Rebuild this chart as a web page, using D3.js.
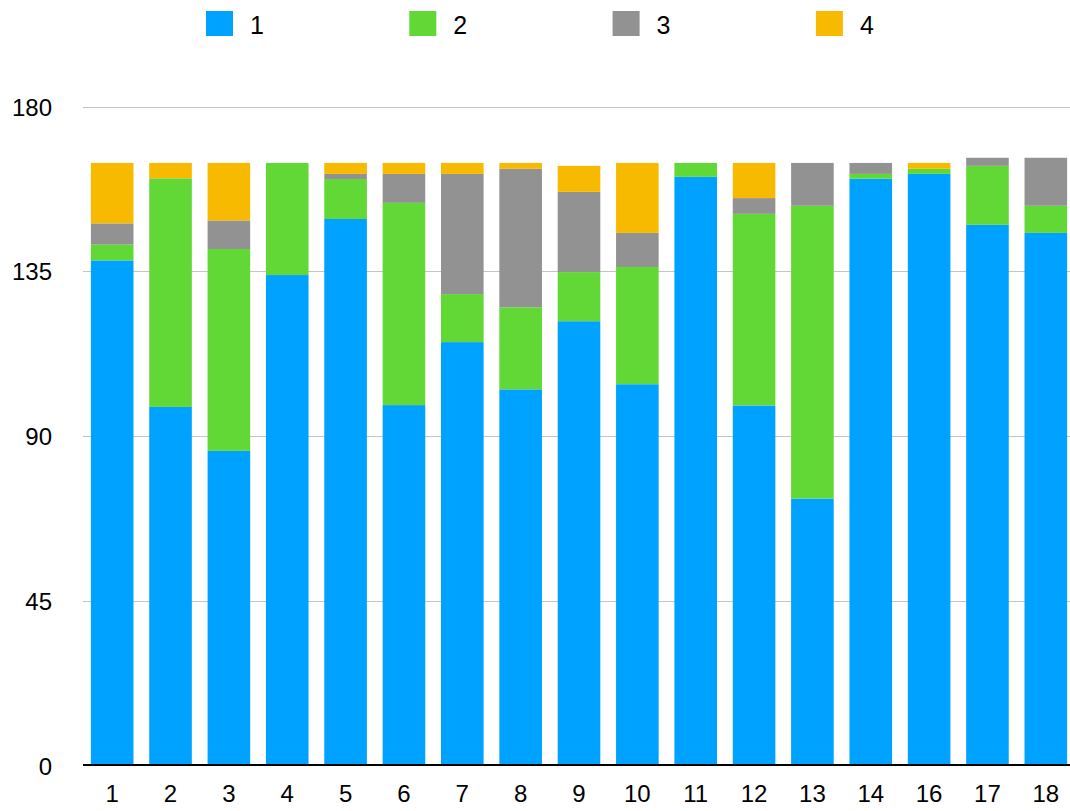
<!DOCTYPE html>
<html>
<head>
<meta charset="utf-8">
<script src="https://cdn.jsdelivr.net/npm/d3@7"></script>
<style>
  body { margin: 0; background: #fff; }
  text { font-family: "Liberation Sans", Arial, Helvetica, sans-serif; fill: #000; }
</style>
</head>
<body>
<svg id="chart" width="1070" height="811"></svg>
<script>
/////////////////////////////////
// DATA
//////////////////////////////////

var categories = ["1", "2", "3", "4", "5", "6", "7", "8", "9", "10", "11", "12", "13", "14", "16", "17", "18"];
var seriesNames = ["1", "2", "3", "4"];

// one array per series
var series1 = [138, 98, 86, 134, 149.3, 98.5, 115.7, 102.8, 121.4, 104.2, 160.8, 98.4, 73, 160.3, 161.6, 147.7, 145.5];
var series2 = [4.3, 62.4, 55.1, 30.6, 10.9, 55.2, 13.1, 22.4, 13.4, 32, 3.8, 52.3, 79.9, 1.3, 1.4, 16.1, 7.4];
var series3 = [5.8, 0, 7.8, 0, 1.4, 7.9, 32.8, 37.8, 21.9, 9.3, 0, 4.3, 11.7, 3, 0, 2.2, 13.1];
var series4 = [16.5, 4.2, 15.7, 0, 3, 3, 3, 1.6, 7.1, 19.1, 0, 9.6, 0, 0, 1.6, 0, 0];

var yTicks = [0, 45, 90, 135, 180];
var colors = ["#00A2FF", "#61D836", "#929292", "#F8BA00"];

/////////////////////////////////
// SCALES
//////////////////////////////////

var svg = d3.select("#chart");

var table = categories.map(function(c, i) {
  return { cat: c, s1: series1[i], s2: series2[i], s3: series3[i], s4: series4[i] };
});

var stack = d3.stack().keys(["s1", "s2", "s3", "s4"]);
var layers = stack(table);

var x = d3.scaleBand()
  .domain(categories)
  .range([83, 1075])
  .paddingInner(0.27)
  .paddingOuter(0.135);

var y = d3.scaleLinear()
  .domain([0, 180])
  .range([766, 106.5]);

var color = d3.scaleOrdinal()
  .domain(["s1", "s2", "s3", "s4"])
  .range(colors);

/////////////////////////////////
// GRIDLINES + Y LABELS
//////////////////////////////////

svg.append("g")
  .selectAll("line")
  .data(yTicks.filter(function(d) { return d > 0; }))
  .enter()
  .append("line")
    .attr("x1", 83)
    .attr("x2", 1070)
    .attr("y1", function(d) { return Math.round(y(d)) + 0.5; })
    .attr("y2", function(d) { return Math.round(y(d)) + 0.5; })
    .attr("stroke", "#c4c4c4")
    .attr("stroke-width", 1.2);

svg.append("g")
  .selectAll("text")
  .data(yTicks)
  .enter()
  .append("text")
    .attr("x", 52)
    .attr("y", function(d) { return y(d) + 9; })
    .attr("text-anchor", "end")
    .style("font-size", "24px")
    .text(function(d) { return d; });

/////////////////////////////////
// BARS
//////////////////////////////////

svg.append("g")
  .selectAll("g")
  .data(layers)
  .enter()
  .append("g")
    .attr("fill", function(d) { return color(d.key); })
  .selectAll("rect")
  .data(function(d) { return d; })
  .enter()
  .append("rect")
    .attr("x", function(d) { return x(d.data.cat); })
    .attr("width", x.bandwidth())
    .attr("y", function(d) { return y(d[1]); })
    .attr("height", function(d) { return Math.max(0, y(d[0]) - y(d[1])); });

/////////////////////////////////
// X AXIS
//////////////////////////////////

svg.append("line")
  .attr("x1", 83)
  .attr("x2", 1070)
  .attr("y1", 765)
  .attr("y2", 765)
  .attr("stroke", "#000")
  .attr("stroke-width", 2);

svg.append("g")
  .selectAll("text")
  .data(categories)
  .enter()
  .append("text")
    .attr("x", function(d) { return x(d) + x.bandwidth() / 2; })
    .attr("y", 802)
    .attr("text-anchor", "middle")
    .style("font-size", "24px")
    .text(function(d) { return d; });

/////////////////////////////////
// LEGEND
//////////////////////////////////

var legend = svg.append("g")
  .selectAll("g")
  .data(seriesNames)
  .enter()
  .append("g")
    .attr("transform", function(d, i) { return "translate(" + (206 + i * 203.3) + ",11)"; });

legend.append("rect")
  .attr("width", 27)
  .attr("height", 25)
  .attr("fill", function(d, i) { return colors[i]; });

legend.append("text")
  .attr("x", 44)
  .attr("y", 23)
  .style("font-size", "25px")
  .text(function(d) { return d; });
</script>
</body>
</html>
